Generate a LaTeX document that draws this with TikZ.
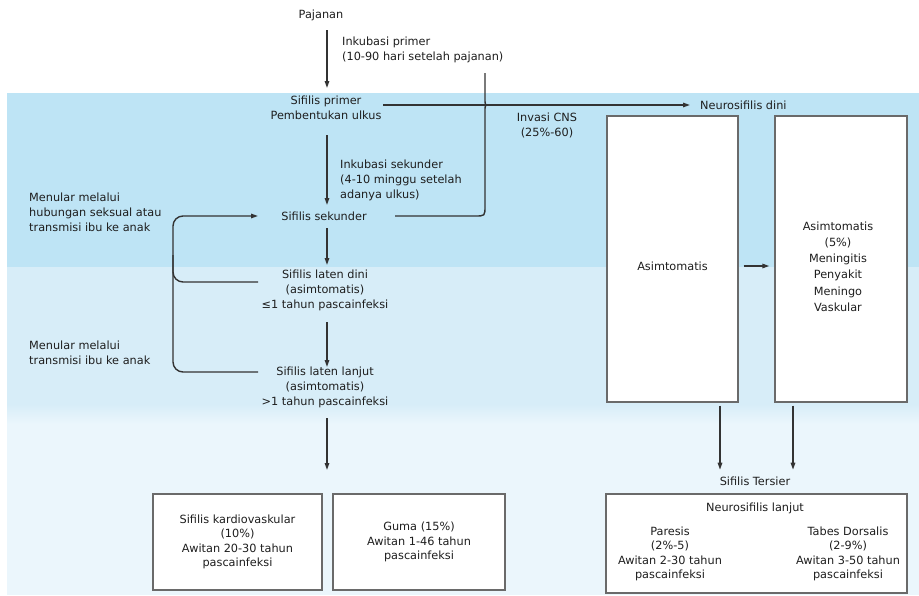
\documentclass[tikz,border=0pt]{standalone}
\usepackage{fontspec}
\setmainfont{DejaVu Sans}
\usetikzlibrary{arrows.meta,calc}
\definecolor{bandA}{HTML}{BEE4F5}
\definecolor{bandB}{HTML}{D7EDF8}
\definecolor{bandC}{HTML}{EBF6FC}
\definecolor{ink}{HTML}{1E1E1E}
\definecolor{ink2}{HTML}{333333}
\definecolor{boxline}{HTML}{6A6A6A}
\begin{document}
\begin{tikzpicture}[x=1pt,y=-1pt,
  txt/.style={font=\fontsize{11.3}{15}\selectfont, text=ink, inner sep=0pt, align=center},
  ltxt/.style={txt, align=left},
  tbox/.style={txt, font=\fontsize{11.3}{14.5}\selectfont},
  box/.style={draw=boxline, line width=1.4pt, fill=white, inner sep=0pt},
  ln/.style={draw=ink2, line width=1.4pt},
  arr/.style={ln, -{Triangle[length=7pt,width=4.5pt]}}]
\useasboundingbox (0,0) rectangle (919,595);
\fill[white] (0,0) rectangle (919,595);
\fill[bandA] (7,93) rectangle (919,267);
\fill[bandB] (7,267) rectangle (919,410);
\fill[bandC] (7,410) rectangle (919,595);
\shade[top color=bandB,bottom color=bandC] (7,404) rectangle (919,424);

% main column
\node[txt] (pajanan) at (321,15) {Pajanan};
\node[txt] (primer) at (326,107.5) {Sifilis primer\\Pembentukan ulkus};
\node[ltxt, anchor=west] (inkp) at (342,49.5) {Inkubasi primer\\(10-90 hari setelah pajanan)};
\node[ltxt, anchor=west] (inks) at (340,180) {Inkubasi sekunder\\(4-10 minggu setelah\\adanya ulkus)};
\node[txt] (sekunder) at (324,216) {Sifilis sekunder};
\node[txt] (dini) at (325,290.5) {Sifilis laten dini\\(asimtomatis)\\≤1 tahun pascainfeksi};
\node[txt] (lanjut) at (325,387) {Sifilis laten lanjut\\(asimtomatis)\\>1 tahun pascainfeksi};
\node[ltxt, anchor=west] (menular1) at (29,212) {Menular melalui\\hubungan seksual atau\\transmisi ibu ke anak};
\node[ltxt, anchor=west] (menular2) at (29,352.5) {Menular melalui\\transmisi ibu ke anak};

% CNS
\node[txt, anchor=west] (neurodini) at (700,105) {Neurosifilis dini};
\node[txt] (invasi) at (547,125) {Invasi CNS\\(25\%-60)};
\node[box, minimum width=131pt, minimum height=286pt] (boxA) at (672.5,259) {};
\node[txt] (asimA) at ($(boxA.center)+(0,7)$) {Asimtomatis};
\node[box, minimum width=132pt, minimum height=286pt] (boxB) at (841,259) {};
\node[txt, font=\fontsize{11.3}{16.2}\selectfont] (asimB) at (838,266.5) {Asimtomatis\\(5\%)\\Meningitis\\Penyakit\\Meningo\\Vaskular};
\node[txt] (tersier) at (755,481) {Sifilis Tersier};

% bottom boxes
\node[box, tbox, minimum width=169pt, minimum height=96pt] (kardio) at (237.5,542) {Sifilis kardiovaskular\\(10\%)\\Awitan 20-30 tahun\\pascainfeksi};
\node[box, tbox, minimum width=172pt, minimum height=96pt] (guma) at (419,542) {Guma (15\%)\\Awitan 1-46 tahun\\pascainfeksi};
\node[box, minimum width=301pt, minimum height=99pt] (neurol) at (756.5,543.5) {};
\node[txt] (neurotitle) at (755,508) {Neurosifilis lanjut};
\node[tbox] (paresis) at (670,554) {Paresis\\(2\%-5)\\Awitan 2-30 tahun\\pascainfeksi};
\node[tbox] (tabes) at (848,554) {Tabes Dorsalis\\(2-9\%)\\Awitan 3-50 tahun\\pascainfeksi};

% connectors main column
\draw[arr] ($(pajanan.center)+(6,15)$) -- ($(primer.center)+(1,-19.5)$);
\draw[arr] ($(primer.center)+(1,27.5)$) -- ($(sekunder.center)+(3,-11)$);
\draw[arr] ($(sekunder.center)+(3,12)$) -- ($(dini.center)+(2,-25.5)$);
\draw[arr] ($(dini.center)+(2,31.5)$) -- ($(lanjut.center)+(2,-20)$);
\coordinate (cvtip) at (327,470);
\draw[arr] ($(lanjut.center)+(2,31)$) -- (cvtip);

% to neurosifilis dini
\draw[arr] ($(primer.center)+(57,-2.5)$) -- ($(neurodini.west)+(-10,0)$);
\coordinate (bracetop) at (485,73);
\draw[ln] ($(sekunder.center)+(71,0)$) -- (475,216) .. controls (485,216) .. (485,206)
   -- (485,111) .. controls (485,105) .. (489,105) .. controls (485,105) .. (485,99) -- (bracetop);

% left bracket
\coordinate (brA) at (258,372);
\coordinate (brB) at (258,282);
\draw[arr, rounded corners=10pt] (brA) -- (173,372) -- (173,216) -- ($(sekunder.center)+(-66,0)$);
\draw[ln, rounded corners=10pt] (173,255) -- (173,282) -- (brB);

% CNS connectors
\draw[arr] ($(boxA.east)+(5,7)$) -- ($(boxB.west)+(-5,7)$);
\draw[arr] ($(boxA.south)+(47.5,3)$) -- ($(boxA.south)+(47.5,67)$);
\draw[arr] ($(boxB.south)+(-48,3)$) -- ($(boxB.south)+(-48,67)$);
\end{tikzpicture}
\end{document}
